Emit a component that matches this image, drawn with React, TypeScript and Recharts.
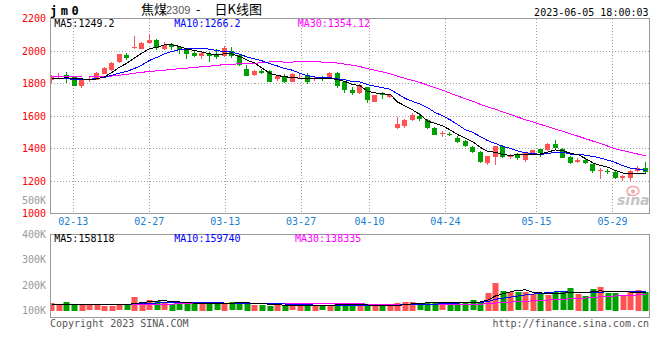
import React from "react";
import {
  ComposedChart,
  Bar,
  Line,
  XAxis,
  YAxis,
  CartesianGrid,
  ReferenceArea,
} from "recharts";

// jm2309 daily candles, 02-08 .. 06-05
const DATES = ["02-13", "02-27", "03-13", "03-27", "04-10", "04-24", "05-15", "05-29"];
const DATE_IDX = [3, 13, 23, 33, 42, 52, 64, 74];
const PRICE_TICKS = [1000, 1200, 1400, 1600, 1800, 2000, 2200];
const VOL_TICKS = [100000, 200000, 300000, 400000];

const OPEN = [
  1824, 1841, 1851, 1840, 1785, 1825, 1824, 1861, 1886, 1929,
  1974, 2018, 2018, 2049, 2066, 2010, 2041, 2025, 2004, 1990,
  1974, 1980, 1980, 1974, 2000, 1974, 1892, 1851, 1877, 1877,
  1824, 1840, 1810, 1828, 1851, 1828, 1834, 1830, 1865, 1810,
  1759, 1742, 1779, 1687, 1742, 1718, 1524, 1538, 1575, 1601,
  1575, 1527, 1490, 1487, 1466, 1447, 1411, 1380, 1312, 1349,
  1415, 1345, 1359, 1325, 1370, 1395, 1390, 1427, 1400, 1349,
  1318, 1329, 1304, 1265, 1263, 1257, 1217, 1217, 1261, 1278,
];
const HIGH = [
  1855, 1867, 1871, 1845, 1822, 1845, 1870, 1900, 1932, 1982,
  1990, 2090, 2055, 2103, 2076, 2055, 2052, 2028, 2006, 2004,
  1992, 1994, 2015, 2029, 2025, 1976, 1912, 1886, 1892, 1886,
  1850, 1861, 1865, 1857, 1865, 1845, 1845, 1871, 1871, 1812,
  1779, 1800, 1781, 1730, 1745, 1732, 1591, 1580, 1616, 1616,
  1580, 1530, 1509, 1500, 1475, 1450, 1413, 1382, 1355, 1418,
  1420, 1365, 1370, 1380, 1392, 1400, 1432, 1452, 1402, 1352,
  1340, 1335, 1306, 1278, 1272, 1260, 1235, 1265, 1290, 1318,
];
const LOW = [
  1800, 1830, 1804, 1783, 1775, 1810, 1820, 1858, 1880, 1925,
  1947, 2015, 2010, 2045, 2004, 2004, 2009, 1984, 1953, 1963,
  1953, 1932, 1953, 1963, 1959, 1906, 1848, 1845, 1861, 1808,
  1816, 1804, 1808, 1826, 1800, 1816, 1816, 1828, 1775, 1742,
  1728, 1734, 1677, 1685, 1702, 1708, 1522, 1524, 1572, 1568,
  1520, 1485, 1468, 1475, 1435, 1412, 1372, 1310, 1298, 1298,
  1340, 1338, 1330, 1318, 1365, 1350, 1385, 1395, 1340, 1303,
  1310, 1303, 1250, 1212, 1242, 1215, 1200, 1198, 1255, 1252,
];
const CLOSE = [
  1846, 1848, 1840, 1785, 1820, 1828, 1867, 1898, 1929, 1980,
  1953, 2022, 2052, 2066, 2015, 2035, 2021, 2004, 1980, 1974,
  1990, 1967, 1963, 2021, 1967, 1912, 1851, 1877, 1865, 1810,
  1845, 1810, 1861, 1832, 1810, 1834, 1826, 1865, 1783, 1759,
  1738, 1789, 1697, 1728, 1728, 1728, 1550, 1575, 1605, 1585,
  1524, 1487, 1493, 1480, 1441, 1417, 1380, 1318, 1353, 1415,
  1345, 1359, 1339, 1370, 1390, 1370, 1427, 1400, 1345, 1309,
  1329, 1309, 1263, 1268, 1255, 1223, 1230, 1261, 1278, 1255,
];
const MA5 = [
  1830, 1832, 1835, 1830, 1828, 1824, 1828, 1840, 1868, 1900,
  1925, 1956, 1987, 2015, 2022, 2038, 2038, 2028, 2011, 2003,
  1994, 1983, 1975, 1983, 1982, 1966, 1943, 1926, 1894, 1863,
  1850, 1841, 1838, 1832, 1832, 1829, 1833, 1833, 1824, 1813,
  1794, 1787, 1753, 1742, 1736, 1734, 1686, 1662, 1637, 1609,
  1568, 1555, 1539, 1514, 1485, 1464, 1442, 1407, 1382, 1377,
  1362, 1358, 1362, 1366, 1361, 1366, 1379, 1391, 1386, 1370,
  1362, 1338, 1311, 1296, 1285, 1264, 1248, 1247, 1249, 1249.2,
];
const MA10 = [
  1832, 1830, 1829, 1826, 1825, 1826, 1830, 1838, 1850, 1864,
  1875, 1892, 1914, 1942, 1961, 1982, 1997, 2008, 2013, 2013,
  2016, 2011, 2002, 1997, 1993, 1980, 1963, 1951, 1939, 1923,
  1908, 1892, 1882, 1863, 1848, 1840, 1837, 1836, 1828, 1823,
  1812, 1810, 1793, 1783, 1775, 1764, 1737, 1708, 1690, 1673,
  1651, 1621, 1601, 1576, 1547, 1516, 1499, 1473, 1448, 1431,
  1413, 1400, 1385, 1374, 1369, 1364, 1369, 1377, 1376, 1366,
  1364, 1359, 1351, 1341, 1328, 1313, 1293, 1279, 1273, 1266.2,
];
const MA30 = [
  1843, 1843, 1842, 1841, 1840, 1840, 1841, 1843, 1846, 1851,
  1857, 1863, 1869, 1874, 1878, 1882, 1887, 1891, 1895, 1899,
  1903, 1907, 1912, 1916, 1919, 1921, 1923, 1925, 1928, 1933,
  1933, 1932, 1932, 1934, 1934, 1934, 1932, 1931, 1926, 1919,
  1912, 1904, 1892, 1881, 1871, 1861, 1845, 1831, 1819, 1806,
  1790, 1774, 1759, 1740, 1723, 1706, 1691, 1672, 1655, 1642,
  1625, 1610, 1593, 1577, 1563, 1548, 1535, 1519, 1505, 1490,
  1476, 1460, 1445, 1430, 1414, 1397, 1387, 1376, 1365, 1354.12,
];

const VOLUME = [
  66000, 47000, 74000, 47000, 52000, 55000, 55000, 44000, 41000, 55000,
  55000, 116000, 74000, 88000, 80000, 72000, 60000, 72000, 58800, 61200,
  59500, 60400, 72000, 61000, 72000, 72000, 59000, 50000, 50000, 44500,
  50000, 43800, 44600, 50000, 43500, 44200, 45100, 50000, 66000, 47000,
  47000, 47000, 38800, 39600, 38500, 39200, 66000, 74000, 74000, 55000,
  70000, 66000, 72000, 66000, 70000, 70000, 88000, 78000, 150000, 240000,
  172000, 160000, 157000, 157650, 143000, 143000, 138000, 157000, 165000, 190000,
  141000, 128500, 186000, 203310, 148000, 149500, 131000, 166000, 180000, 164090,
];
const VMA5 = [
  56000, 55000, 57000, 56000, 57200, 55000, 56600, 50600, 49400, 50000,
  50000, 62200, 68200, 77600, 82600, 86000, 74800, 74400, 68800, 64800,
  62400, 62400, 62400, 62400, 64800, 67200, 67200, 62800, 60800, 55200,
  50800, 47600, 46400, 46400, 46400, 45200, 45200, 46400, 49600, 50200,
  50800, 51400, 49200, 43800, 42200, 40600, 44400, 51400, 58400, 61600,
  67800, 67800, 67400, 65800, 68800, 68800, 73200, 74400, 91200, 125200,
  145600, 160000, 175800, 177300, 157900, 152100, 147700, 147700, 149200, 158600,
  158200, 156300, 162100, 169800, 161400, 163100, 163600, 159600, 154900, 158118,
];
const VMA10 = [
  54000, 54000, 55000, 55000, 55000, 54000, 54000, 53000, 53000, 53600,
  52500, 59400, 59400, 63500, 66300, 68000, 68500, 71300, 73200, 73700,
  74200, 68600, 68400, 65600, 64800, 64800, 64800, 62600, 61600, 60000,
  59000, 57400, 54600, 53600, 50800, 48000, 46400, 46400, 48000, 48300,
  48000, 48300, 47800, 46700, 46200, 45700, 47900, 50300, 51100, 51900,
  54200, 56100, 59400, 62100, 65200, 68300, 70500, 70900, 78500, 97000,
  107200, 116600, 125100, 134300, 141600, 148900, 153900, 161800, 163300, 158300,
  155200, 152000, 154900, 159500, 160000, 160600, 159900, 160800, 162300, 159740,
];
const VMA30 = [
  50000, 50000, 51000, 51000, 51000, 52000, 52000, 52000, 52000, 53000,
  53000, 54000, 55000, 55000, 56000, 57000, 57000, 58000, 58000, 59000,
  59000, 60000, 60000, 61000, 61000, 62000, 62000, 62000, 62000, 62400,
  61900, 61800, 60800, 60900, 60600, 60300, 59900, 60100, 60900, 60700,
  60400, 58100, 56900, 55300, 53900, 52800, 53000, 53100, 53600, 53400,
  53700, 53900, 53900, 54100, 54100, 54000, 54900, 55900, 59200, 65700,
  69800, 73700, 77400, 81000, 84300, 87600, 90800, 94300, 97600, 102400,
  105500, 108200, 113100, 118600, 122200, 125900, 128100, 131200, 134700, 138335,
];

const RED = "#ff5252";
const GREEN = "#00a000";
const MONO = "'DejaVu Sans Mono', monospace";
const CJK = "'Noto Sans CJK SC', sans-serif";
const GRID = "#a0a0a0";
const FRAME = "#999";

const priceData = CLOSE.map((c, i) => ({
  i,
  o: OPEN[i],
  h: HIGH[i],
  l: LOW[i],
  c,
  range: [LOW[i], HIGH[i]],
  ma5: MA5[i],
  ma10: MA10[i],
  ma30: MA30[i],
}));

const volData = VOLUME.map((v, i) => ({
  i,
  v,
  up: CLOSE[i] >= OPEN[i],
  ma5: VMA5[i],
  ma10: VMA10[i],
  ma30: VMA30[i],
}));

const K_DOMAIN: [number, number] = [-0.16, 79.5];
const D_DOMAIN: [number, number] = [0, 78.87];

function Candle(props: any) {
  const { x, y, width, height, payload } = props;
  const { o, c, h, l } = payload;
  const color = c >= o ? RED : GREEN;
  const k = h === l ? 0 : Math.abs(height) / (h - l);
  const top = Math.min(y, y + height);
  const cx = Math.floor(x + width / 2) + 0.5;
  const bodyTop = Math.round(top + (h - Math.max(o, c)) * k);
  const bodyH = Math.max(1, Math.round(Math.abs(c - o) * k));
  return (
    <g>
      <line x1={cx} x2={cx} y1={Math.round(top)} y2={Math.round(top + Math.abs(height))} stroke={color} strokeWidth={1} />
      <rect x={cx - 2.5} y={bodyTop} width={5} height={bodyH} fill={color} />
    </g>
  );
}

function VolBar(props: any) {
  const { x, y, width, height, payload } = props;
  const cx = Math.floor(x + width / 2) + 0.5;
  return (
    <rect
      x={cx - 3}
      y={Math.round(y)}
      width={6}
      height={Math.max(0, Math.round(height))}
      fill={payload.up ? RED : GREEN}
    />
  );
}

const dateLabel = (v: number) => DATES[DATE_IDX.indexOf(v)] ?? "";
const volLabel = (v: number) => `${v / 1000}K`;

const CSS = `
.recharts-cartesian-grid line { shape-rendering: crispEdges; }
.recharts-reference-area-rect { shape-rendering: crispEdges; }
.recharts-line-curve { shape-rendering: crispEdges; }
`;

export default function App() {
  return (
    <div
      style={{
        position: "absolute",
        left: 0,
        top: 0,
        width: 660,
        height: 360,
        background: "#fff",
        overflow: "hidden",
      }}
    >
      <style>{CSS}</style>
      <div style={{ position: "absolute", left: 0, top: 0 }}>
        <ComposedChart
          width={660}
          height={360}
          data={priceData}
          margin={{ top: 18.5, right: 10.5, left: 0.5, bottom: 132.5 }}
        >
          <XAxis xAxisId="k" dataKey="i" type="number" domain={K_DOMAIN} allowDataOverflow hide />
          <XAxis
            xAxisId="d"
            dataKey="i"
            type="number"
            domain={D_DOMAIN}
            allowDataOverflow
            ticks={DATE_IDX}
            interval={0}
            tickFormatter={dateLabel}
            height={14}
            tickSize={0}
            tickMargin={4}
            tickLine={false}
            axisLine={{ stroke: FRAME }}
            tick={{ fill: "#1a80d0", fontSize: 10, fontFamily: MONO }}
          />
          <YAxis
            yAxisId="p"
            type="number"
            domain={[1000, 2200]}
            allowDataOverflow
            ticks={PRICE_TICKS}
            interval={0}
            width={50}
            tickSize={0}
            tickMargin={4.5}
            tickLine={false}
            axisLine={{ stroke: FRAME }}
            tick={{ fill: "#ff0000", fontSize: 10, fontFamily: MONO }}
          />
          <CartesianGrid xAxisId="d" yAxisId="p" stroke={GRID} strokeDasharray="1 2" />
          <ReferenceArea
            xAxisId="k"
            yAxisId="p"
            x1={K_DOMAIN[0]}
            x2={K_DOMAIN[1]}
            y1={1000}
            y2={2200}
            fill="none"
            stroke={FRAME}
            strokeOpacity={1}
          />
          <Bar
            xAxisId="k"
            yAxisId="p"
            dataKey="range"
            barSize={5}
            shape={(p: any) => <Candle {...p} />}
            isAnimationActive={false}
          />
          <Line xAxisId="k" yAxisId="p" type="linear" dataKey="ma30" stroke="#ff00ff" strokeWidth={1} dot={false} isAnimationActive={false} />
          <Line xAxisId="k" yAxisId="p" type="linear" dataKey="ma10" stroke="#0000ff" strokeWidth={1} dot={false} isAnimationActive={false} />
          <Line xAxisId="k" yAxisId="p" type="linear" dataKey="ma5" stroke="#000000" strokeWidth={1} dot={false} isAnimationActive={false} />
        </ComposedChart>
      </div>

      <div style={{ position: "absolute", left: 0, top: 0 }}>
        <ComposedChart
          width={660}
          height={360}
          data={volData}
          margin={{ top: 234.5, right: 10.5, left: 0.5, bottom: 42.5 }}
        >
          <XAxis xAxisId="k" dataKey="i" type="number" domain={K_DOMAIN} allowDataOverflow hide />
          <XAxis
            xAxisId="d"
            dataKey="i"
            type="number"
            domain={D_DOMAIN}
            allowDataOverflow
            ticks={DATE_IDX}
            interval={0}
            height={0}
            tick={false}
            tickLine={false}
            axisLine={{ stroke: FRAME }}
          />
          <YAxis
            yAxisId="lbl"
            type="number"
            domain={[72000, 400000]}
            allowDataOverflow
            ticks={VOL_TICKS}
            interval={0}
            tickFormatter={volLabel}
            width={50}
            tickSize={0}
            tickMargin={4.5}
            tickLine={false}
            axisLine={{ stroke: FRAME }}
            tick={{ fill: "#999", fontSize: 10, fontFamily: MONO }}
          />
          <YAxis
            yAxisId="g"
            type="number"
            domain={[0, 4]}
            allowDataOverflow
            ticks={[0, 1, 2, 3, 4]}
            width={0}
            tick={false}
            tickLine={false}
            axisLine={false}
          />
          <YAxis yAxisId="v" type="number" domain={[-58000, 651000]} allowDataOverflow hide />
          <CartesianGrid xAxisId="d" yAxisId="g" stroke={GRID} strokeDasharray="1 2" />
          <ReferenceArea
            xAxisId="k"
            yAxisId="g"
            x1={K_DOMAIN[0]}
            x2={K_DOMAIN[1]}
            y1={0}
            y2={4}
            fill="none"
            stroke={FRAME}
            strokeOpacity={1}
          />
          <Bar
            xAxisId="k"
            yAxisId="v"
            dataKey="v"
            barSize={6}
            shape={(p: any) => <VolBar {...p} />}
            isAnimationActive={false}
          />
          <Line xAxisId="k" yAxisId="v" type="linear" dataKey="ma30" stroke="#ff00ff" strokeWidth={1} dot={false} isAnimationActive={false} />
          <Line xAxisId="k" yAxisId="v" type="linear" dataKey="ma10" stroke="#0000ff" strokeWidth={1} dot={false} isAnimationActive={false} />
          <Line xAxisId="k" yAxisId="v" type="linear" dataKey="ma5" stroke="#000000" strokeWidth={1} dot={false} isAnimationActive={false} />
        </ComposedChart>
      </div>

      <svg
        width={660}
        height={360}
        style={{ position: "absolute", left: 0, top: 0 }}
      >
        <text x={50} y={15} fontFamily={MONO} fontWeight="bold" fontSize={12} letterSpacing={3.5} fill="#000">
          jm0
        </text>
        <text x={141} y={14} fontFamily={CJK} fontSize={13} fill="#000">
          焦煤
        </text>
        <text x={166} y={14} fontFamily="'Liberation Sans', sans-serif" fontSize={11} fill="#555">
          2309
        </text>
        <text x={196} y={14} fontFamily={CJK} fontSize={13} fill="#000">
          -
        </text>
        <text x={214.5} y={14} fontFamily={CJK} fontSize={13} fill="#000">
          日K线图
        </text>
        <text x={648.5} y={15.7} textAnchor="end" fontFamily={MONO} fontSize={10} fill="#000">
          2023-06-05 18:00:03
        </text>

        <text x={54.3} y={27.3} fontFamily={MONO} fontSize={10} fill="#000">MA5:1249.2</text>
        <text x={174.3} y={27.3} fontFamily={MONO} fontSize={10} fill="#0000ff">MA10:1266.2</text>
        <text x={297.7} y={27.3} fontFamily={MONO} fontSize={10} fill="#ff00ff">MA30:1354.12</text>

        <text x={46} y={204.3} textAnchor="end" fontFamily={MONO} fontSize={10} fill="#999">500K</text>

        <text x={54.3} y={242} fontFamily={MONO} fontSize={10} fill="#000">MA5:158118</text>
        <text x={174.3} y={242} fontFamily={MONO} fontSize={10} fill="#0000ff">MA10:159740</text>
        <text x={295} y={242} fontFamily={MONO} fontSize={10} fill="#ff00ff">MA30:138335</text>

        <text x={50} y={326.5} fontFamily={MONO} fontSize={10} fill="#555">Copyright 2023 SINA.COM</text>
        <text x={649} y={326.5} textAnchor="end" fontFamily={MONO} fontSize={10} fill="#555">
          http://finance.sina.com.cn
        </text>

        <ellipse cx={633} cy={191} rx={6} ry={4.5} fill="none" stroke="#f4a4a4" strokeWidth={1.5} />
        <circle cx={633} cy={191.5} r={2} fill="#f4a4a4" />
        <text x={617} y={205} fontFamily="'DejaVu Sans', sans-serif" fontStyle="italic" fontWeight="bold" fontSize={14} fill="#c4c4c4">
          sina
        </text>
      </svg>
    </div>
  );
}
